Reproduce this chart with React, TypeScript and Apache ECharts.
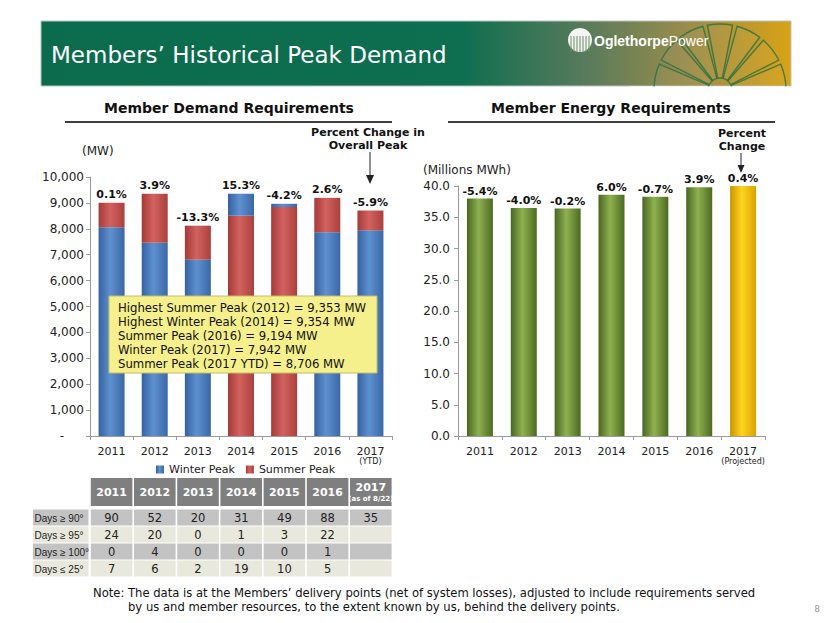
import React, { useEffect, useRef } from 'react';
import * as echarts from 'echarts';

// ---------- data ----------
const years = ['2011', '2012', '2013', '2014', '2015', '2016', '2017'];
const winterPeak = [8060, 7460, 6810, 9354, 8965, 7865, 7942];
const summerPeak = [9005, 9353, 8120, 8505, 8840, 9194, 8706];
const peakChange = ['0.1%', '3.9%', '-13.3%', '15.3%', '-4.2%', '2.6%', '-5.9%'];
const energyReq = [38.0, 36.5, 36.4, 38.6, 38.3, 39.8, 40.0];
const energyChange = ['-5.4%', '-4.0%', '-0.2%', '6.0%', '-0.7%', '3.9%', '0.4%'];
const demandSub = '(YTD)';
const energySub = '(Projected)';
const annotationLines = [
  'Highest Summer Peak (2012) = 9,353 MW',
  'Highest Winter Peak (2014) = 9,354 MW',
  'Summer Peak (2016) = 9,194 MW',
  'Winter Peak (2017) = 7,942 MW',
  'Summer Peak (2017 YTD) = 8,706 MW',
];
const tableYears = ['2011', '2012', '2013', '2014', '2015', '2016', '2017'];
const tableRowLabels = ['Days \u2265 90\u00b0', 'Days \u2265 95\u00b0', 'Days \u2265 100\u00b0', 'Days \u2264 25\u00b0'];
const days90 = ['90', '52', '20', '31', '49', '88', '35'];
const days95 = ['24', '20', '0', '1', '3', '22', ''];
const days100 = ['0', '4', '0', '0', '0', '1', ''];
const days25 = ['7', '6', '2', '19', '10', '5', ''];
const noteLines = [
  'The data is at the Members\u2019 delivery points (net of system losses), adjusted to include requirements served',
  'by us and member resources, to the extent known by us, behind the delivery points.',
];

const FONT = "'DejaVu Sans', Verdana, sans-serif";
const NARROW = "'Liberation Sans', Arial, sans-serif";

function grad(edge: string, mid: string, edge2?: string) {
  return {
    type: 'linear', x: 0, y: 0, x2: 1, y2: 0,
    colorStops: [
      { offset: 0, color: edge },
      { offset: 0.45, color: mid },
      { offset: 1, color: edge2 || edge },
    ],
  };
}
const BLUE = grad('#35629f', '#5e90d0', '#3a68a6');
const RED = grad('#a53a38', '#d2625f', '#ab403d');
const GREEN = grad('#4a6620', '#8fb150', '#4d6a22');
const GOLD = grad('#c89400', '#ffd51f', '#d9a300');

function txt(x: number, y: number, text: string, o: any = {}) {
  return {
    type: 'text', x, y, z: 50,
    style: {
      text,
      fill: o.fill || '#111',
      fontSize: o.fontSize || 12,
      fontFamily: o.fontFamily || FONT,
      fontWeight: o.fontWeight || 'normal',
      align: o.align || 'left',
      textAlign: o.align || 'left',
      verticalAlign: 'middle',
      textVerticalAlign: 'middle',
      lineHeight: o.lineHeight,
      rich: o.rich,
    },
  };
}

function buildGraphics() {
  const g: any[] = [];
  // banner
  g.push({
    type: 'rect', z: 1, shape: { x: 41, y: 21, width: 750, height: 65 },
    style: {
      fill: {
        type: 'linear', x: 0, y: 0, x2: 1, y2: 0,
        colorStops: [
          { offset: 0, color: '#0b6b4d' },
          { offset: 0.56, color: '#0e6e50' },
          { offset: 0.72, color: '#557a5b' },
          { offset: 0.86, color: '#9a8c4c' },
          { offset: 1, color: '#d8a216' },
        ],
      },
      stroke: '#b9c4bd', lineWidth: 1,
    },
  });
  // fan
  const cx = 720, cy = 90;
  for (let k = 0; k < 7; k++) {
    const s = -Math.PI + (k * 26 + 1) * Math.PI / 180;
    g.push({
      type: 'sector', z: 2,
      shape: { cx, cy, r: 66, r0: 12, startAngle: s, endAngle: s + 22 * Math.PI / 180, clockwise: true },
      style: { fill: 'rgba(255,255,255,0.04)', stroke: 'rgba(30,110,70,0.75)', lineWidth: 1.4 },
    });
  }
  g.push({ type: 'rect', z: 3, shape: { x: 630, y: 86.5, width: 180, height: 12 }, style: { fill: '#fff' } });
  // logo
  g.push({ type: 'circle', z: 4, shape: { cx: 580, cy: 40, r: 12 }, style: { fill: '#f4f4f4' } });
  for (let k = -3; k <= 3; k++) {
    g.push({
      type: 'line', z: 5,
      shape: { x1: 580 + k * 3, y1: 36, x2: 580 + k * 3, y2: 52 },
      style: { stroke: '#6f8a6a', lineWidth: 1 },
    });
  }
  g.push(txt(594, 41, '{b|Oglethorpe}{n|Power}', {
    rich: {
      b: { fontSize: 14, fontWeight: 'bold', fill: '#fff', color: '#fff', fontFamily: NARROW },
      n: { fontSize: 14, fontWeight: 'normal', fill: '#fff', color: '#fff', fontFamily: NARROW },
    },
  }));
  // title
  g.push(txt(51, 55, 'Members\u2019 Historical Peak Demand', { fill: '#fff', fontSize: 23 }));

  // section headings
  g.push(txt(229, 108, 'Member Demand Requirements', { fontSize: 14, fontWeight: 'bold', align: 'center' }));
  g.push({ type: 'line', z: 5, shape: { x1: 65, y1: 122, x2: 392, y2: 122 }, style: { stroke: '#000', lineWidth: 1.5 } });
  g.push(txt(611, 108, 'Member Energy Requirements', { fontSize: 14, fontWeight: 'bold', align: 'center' }));
  g.push({ type: 'line', z: 5, shape: { x1: 448, y1: 122, x2: 775, y2: 122 }, style: { stroke: '#000', lineWidth: 1.5 } });

  // percent change captions + arrows
  g.push(txt(368, 132, 'Percent Change in', { fontSize: 11, fontWeight: 'bold', align: 'center' }));
  g.push(txt(368, 145, 'Overall Peak', { fontSize: 11, fontWeight: 'bold', align: 'center' }));
  g.push({ type: 'line', z: 5, shape: { x1: 370, y1: 152, x2: 370, y2: 178 }, style: { stroke: '#222', lineWidth: 1 } });
  g.push({ type: 'polygon', z: 5, shape: { points: [[366, 175], [374, 175], [370, 184]] }, style: { fill: '#222' } });
  g.push(txt(742, 133, 'Percent', { fontSize: 11, fontWeight: 'bold', align: 'center' }));
  g.push(txt(742, 146, 'Change', { fontSize: 11, fontWeight: 'bold', align: 'center' }));
  g.push({ type: 'line', z: 5, shape: { x1: 741, y1: 153, x2: 741, y2: 167 }, style: { stroke: '#222', lineWidth: 1 } });
  g.push({ type: 'polygon', z: 5, shape: { points: [[737.5, 165], [744.5, 165], [741, 173]] }, style: { fill: '#222' } });

  // unit labels
  g.push(txt(82, 151, '(MW)', { fontSize: 12, fill: '#222' }));
  g.push(txt(423, 170, '(Millions MWh)', { fontSize: 12, fill: '#222' }));

  // annotation box
  g.push({
    type: 'rect', z: 60, shape: { x: 109, y: 296, width: 268, height: 77 },
    style: { fill: '#f6f08c', stroke: '#c4bd6a', lineWidth: 1 },
  });
  annotationLines.forEach((l, i) => {
    g.push({ ...txt(118, 308 + i * 13.9, l, { fontSize: 11.7, fill: '#111' }), z: 61 });
  });

  // table
  const colX = (i: number) => 90 + i * 43.2;
  tableYears.forEach((y, i) => {
    g.push({ type: 'rect', z: 5, shape: { x: colX(i) + 0.8, y: 478, width: 41.6, height: 28 }, style: { fill: '#7f7f7f' } });
    if (i === tableYears.length - 1) {
      g.push(txt(colX(i) + 21.6, 487, y, { fontSize: 11, fontWeight: 'bold', fill: '#fff', align: 'center' }));
      g.push(txt(colX(i) + 21.6, 499, '(as of 8/22)', { fontSize: 7, fontWeight: 'bold', fill: '#fff', align: 'center' }));
    } else {
      g.push(txt(colX(i) + 21.6, 492, y, { fontSize: 11, fontWeight: 'bold', fill: '#fff', align: 'center' }));
    }
  });
  const rows = [days90, days95, days100, days25];
  rows.forEach((row, r) => {
    const y = 509.5 + r * 17;
    const fill = r % 2 === 0 ? '#c3c3c3' : '#e9e8dc';
    g.push({ type: 'rect', z: 5, shape: { x: 33, y, width: 55.5, height: 16 }, style: { fill } });
    g.push(txt(34.5, y + 8.5, tableRowLabels[r], { fontSize: 10, fill: '#222', fontFamily: NARROW }));
    row.forEach((v, i) => {
      g.push({ type: 'rect', z: 5, shape: { x: colX(i) + 0.8, y, width: 41.6, height: 16 }, style: { fill } });
      if (v !== '') g.push(txt(colX(i) + 21.6, y + 8.5, v, { fontSize: 11.5, fill: '#222', align: 'center' }));
    });
  });

  // note
  g.push(txt(93, 593, 'Note:', { fontSize: 11.6, fill: '#111' }));
  g.push(txt(128, 593, noteLines[0], { fontSize: 11.6, fill: '#111' }));
  g.push(txt(128, 607, noteLines[1], { fontSize: 11.6, fill: '#111' }));
  g.push(txt(817, 609, '8', { fontSize: 9, fill: '#999', align: 'center' }));
  return g;
}

function buildOption() {
  const low = years.map((_, i) => Math.min(winterPeak[i], summerPeak[i]));
  const lowIsWinter = years.map((_, i) => winterPeak[i] <= summerPeak[i]);
  const bottomData = low.map((v, i) => ({ value: v, itemStyle: { color: lowIsWinter[i] ? BLUE : RED } }));
  const topData = years.map((_, i) => ({
    value: Math.max(winterPeak[i], summerPeak[i]) - low[i],
    itemStyle: { color: lowIsWinter[i] ? RED : BLUE },
  }));
  const energyData = energyReq.map((v, i) => ({ value: v, itemStyle: { color: i === energyReq.length - 1 ? GOLD : GREEN } }));

  const axisLabelBase = { fontFamily: FONT, fontSize: 11, color: '#222', interval: 0, margin: 9 };

  return {
    animation: false,
    backgroundColor: '#fff',
    textStyle: { fontFamily: FONT },
    grid: [
      { left: 90, top: 177, width: 302, height: 259 },
      { left: 458, top: 186, width: 307, height: 250 },
    ],
    legend: {
      left: 151, top: 459, itemWidth: 8, itemHeight: 8, itemGap: 11, icon: 'rect',
      textStyle: { fontFamily: FONT, fontSize: 11, color: '#222' },
      data: ['Winter Peak', 'Summer Peak'],
    },
    xAxis: [
      {
        gridIndex: 0, type: 'category', data: years,
        axisLine: { lineStyle: { color: '#9a9a9a' } },
        axisTick: { show: true, length: 4, lineStyle: { color: '#9a9a9a' } },
        axisLabel: {
          ...axisLabelBase,
          lineHeight: 12,
          formatter: (v: string) => (v === years[years.length - 1] ? `${v}\n{s|${demandSub}}` : v),
          rich: { s: { fontSize: 8, lineHeight: 9, fontFamily: FONT, color: '#222' } },
        },
      },
      {
        gridIndex: 1, type: 'category', data: years,
        axisLine: { lineStyle: { color: '#9a9a9a' } },
        axisTick: { show: true, length: 4, lineStyle: { color: '#9a9a9a' } },
        axisLabel: {
          ...axisLabelBase,
          lineHeight: 12,
          formatter: (v: string) => (v === years[years.length - 1] ? `${v}\n{s|${energySub}}` : v),
          rich: { s: { fontSize: 8, lineHeight: 9, fontFamily: FONT, color: '#222' } },
        },
      },
    ],
    yAxis: [
      {
        gridIndex: 0, type: 'value', min: 0, max: 10000, interval: 1000,
        axisLine: { show: true, lineStyle: { color: '#9a9a9a' } },
        axisTick: { show: true, length: 4, lineStyle: { color: '#9a9a9a' } },
        splitLine: { show: false },
        axisLabel: {
          fontFamily: FONT, fontSize: 12, color: '#222', margin: 6,
          formatter: (v: number) => (v === 0 ? '{d|-}' : v.toLocaleString('en-US')),
          rich: { d: { padding: [0, 20, 0, 0], fontSize: 12, fontFamily: FONT, color: '#222' } },
        },
      },
      {
        gridIndex: 1, type: 'value', min: 0, max: 40, interval: 5,
        axisLine: { show: true, lineStyle: { color: '#9a9a9a' } },
        axisTick: { show: true, length: 4, lineStyle: { color: '#9a9a9a' } },
        splitLine: { show: false },
        axisLabel: {
          fontFamily: FONT, fontSize: 12, color: '#222', margin: 8,
          formatter: (v: number) => v.toFixed(1),
        },
      },
    ],
    series: [
      {
        name: 'Winter Peak', type: 'bar', xAxisIndex: 0, yAxisIndex: 0, stack: 'peak',
        barWidth: 26, itemStyle: { color: BLUE }, data: bottomData,
      },
      {
        name: 'Summer Peak', type: 'bar', xAxisIndex: 0, yAxisIndex: 0, stack: 'peak',
        barWidth: 26, itemStyle: { color: RED }, data: topData,
        label: {
          show: true, position: 'top', distance: 3,
          fontFamily: FONT, fontSize: 11, fontWeight: 'bold', color: '#111',
          formatter: (p: any) => peakChange[p.dataIndex],
        },
      },
      {
        name: 'Energy', type: 'bar', xAxisIndex: 1, yAxisIndex: 1,
        barWidth: 26, itemStyle: { color: GREEN }, data: energyData,
        label: {
          show: true, position: 'top', distance: 2,
          fontFamily: FONT, fontSize: 11, fontWeight: 'bold', color: '#111',
          formatter: (p: any) => energyChange[p.dataIndex],
        },
      },
    ],
    graphic: { elements: buildGraphics() },
  };
}

export default function App() {
  const ref = useRef<HTMLDivElement>(null);
  useEffect(() => {
    if (!ref.current) return;
    const chart = echarts.init(ref.current, null, { renderer: 'svg' });
    chart.setOption(buildOption() as any);
    return () => chart.dispose();
  }, []);
  return (
    <div
      ref={ref}
      style={{ position: 'fixed', left: 0, top: 0, width: 830, height: 623, background: '#fff' }}
    />
  );
}
